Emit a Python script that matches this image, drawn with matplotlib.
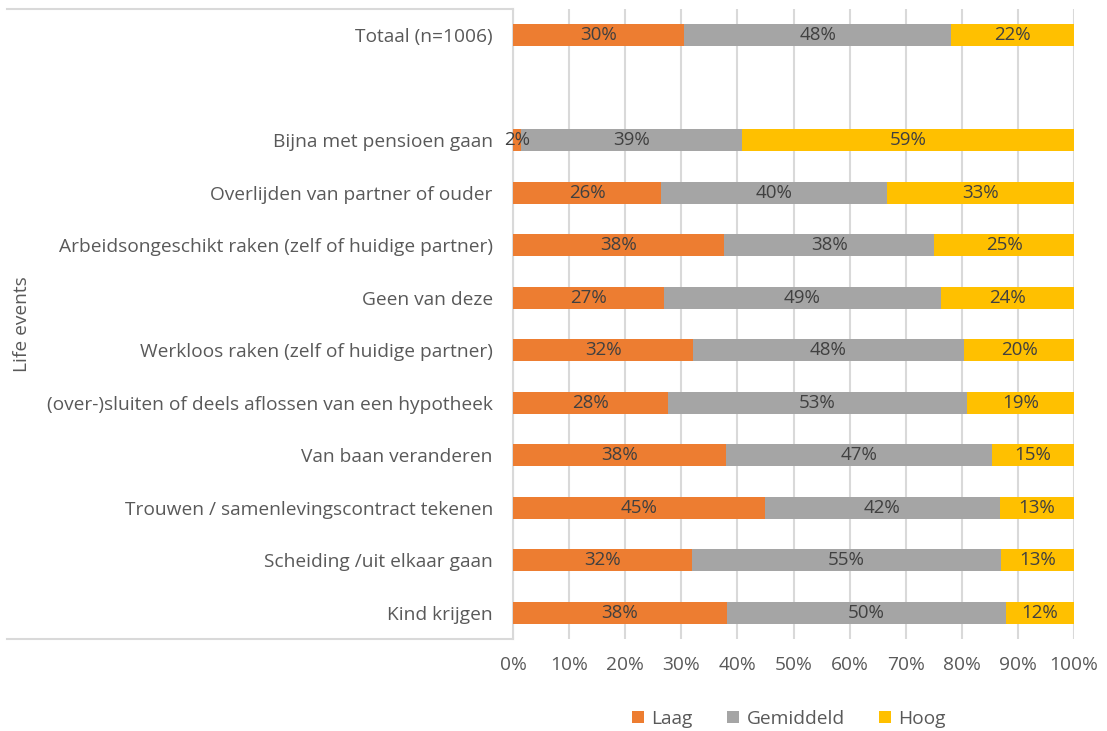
import matplotlib
matplotlib.use("Agg")
import matplotlib.pyplot as plt
from matplotlib.lines import Line2D
import numpy as np

categories = [
    "Totaal (n=1006)",
    "",
    "Bijna met pensioen gaan",
    "Overlijden van partner of ouder",
    "Arbeidsongeschikt raken (zelf of huidige partner)",
    "Geen van deze",
    "Werkloos raken (zelf of huidige partner)",
    "(over-)sluiten of deels aflossen van een hypotheek",
    "Van baan veranderen",
    "Trouwen / samenlevingscontract tekenen",
    "Scheiding /uit elkaar gaan",
    "Kind krijgen",
]
laag =       [30.5, None, 1.5, 26.4, 37.6, 26.9, 32.1, 27.6, 38.0, 44.9, 31.9, 38.1]
gemiddeld =  [47.6, None, 39.4, 40.3, 37.5, 49.4, 48.3, 53.4, 47.4, 41.9, 55.1, 49.8]
hoog =       [21.9, None, 59.1, 33.3, 24.9, 23.7, 19.6, 19.0, 14.6, 13.2, 13.0, 12.1]
series_names = ["Laag", "Gemiddeld", "Hoog"]
colors = ["#ED7D31", "#A5A5A5", "#FFC000"]
xticks = np.arange(0, 101, 10)

plt.rcParams['font.family'] = ['Open Sans', 'DejaVu Sans']
FS = 13.8

fig = plt.figure(figsize=(11.07, 7.31), dpi=100)
ax = fig.add_axes([513/1107, 1-639/731, (1074-513)/1107, (639-9)/731])

y = np.arange(len(categories))
lefts = np.zeros(len(categories))
for name, vals, col in zip(series_names, [laag, gemiddeld, hoog], colors):
    v = np.array([np.nan if x is None else x for x in vals], dtype=float)
    vv = np.nan_to_num(v)
    bars = ax.barh(y, vv, left=lefts, height=0.42, color=col, label=name, zorder=3)
    for i, (b, val) in enumerate(zip(bars, v)):
        if np.isnan(val):
            continue
        ax.text(lefts[i] + val/2, y[i], f"{val:.0f}%", ha="center", va="center",
                fontsize=13.5, color="#404040", zorder=4)
    lefts = lefts + vv

ax.set_xlim(0, 100)
ax.set_ylim(len(categories)-0.5, -0.5)
ax.set_yticks(y)
ax.set_yticklabels(categories, fontsize=FS, color="#595959")
ax.set_xticks(xticks)
ax.set_xticklabels([f"{t}%" for t in xticks], fontsize=FS, color="#595959")
ax.tick_params(axis="y", length=0, pad=14.5)
ax.tick_params(axis="x", length=0, pad=12.5)
ax.grid(axis="x", color="#D9D9D9", linewidth=1.5, zorder=0)
for s in ["top", "right", "bottom"]:
    ax.spines[s].set_visible(False)
ax.spines["left"].set_color("#D9D9D9")
ax.spines["left"].set_linewidth(1.5)

# category box lines
for yy in [9, 639]:
    fig.add_artist(Line2D([7/1107, 513/1107], [1-yy/731, 1-yy/731],
                          color="#D9D9D9", linewidth=1.5))

fig.text(22/1107, 1-324/731, "Life events", rotation=90, ha="center", va="center",
         fontsize=FS, color="#595959")

handles, labels = ax.get_legend_handles_labels()
fig.legend(handles, labels, loc="center", bbox_to_anchor=(789/1107, 1-719/731), ncol=3,
           frameon=False, fontsize=FS, handlelength=0.6, handleheight=0.6,
           columnspacing=1.8, handletextpad=0.4, labelcolor="#595959")

fig.savefig("out.png", dpi=100)
